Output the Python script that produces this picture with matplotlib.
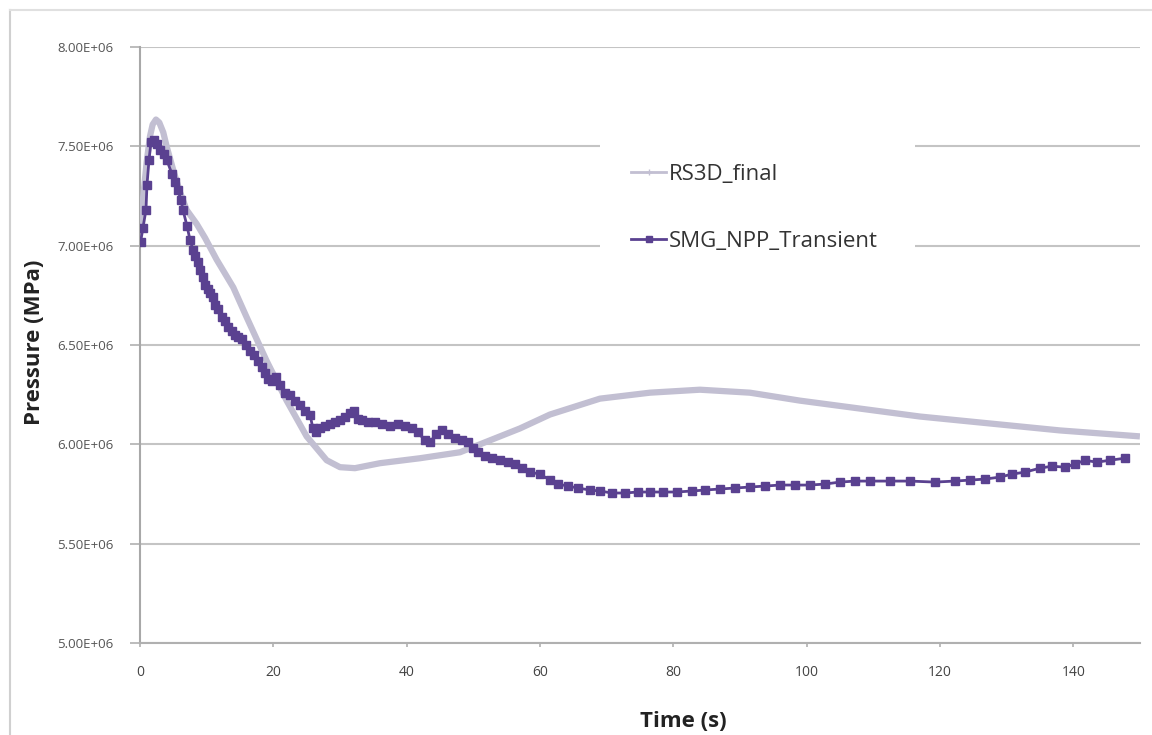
import matplotlib
matplotlib.use("Agg")
import matplotlib.pyplot as plt
from matplotlib.lines import Line2D
from matplotlib.patches import Rectangle
from matplotlib.ticker import FuncFormatter

plt.rcParams['font.family'] = ['Open Sans', 'DejaVu Sans']

# RS3D_final (time s, pressure E6 Pa)
rs3d_t = [0.0, 0.5, 1.0, 1.5, 1.9, 2.4, 2.9, 3.5, 4.0, 5.0, 6.0, 7.0, 8.5, 9.75,
          11.5, 14.0, 16.0, 19.0, 22.0, 25.0, 28.0, 30.0, 32.25, 36.0, 42.0, 48.0,
          52.5, 57.0, 61.5, 69.0, 76.5, 84.0, 91.5, 99.0, 108.0, 117.0, 129.0, 138.0,
          150.0]
rs3d_p = [7.08, 7.25, 7.42, 7.55, 7.61, 7.635, 7.62, 7.57, 7.50, 7.38, 7.27, 7.18,
          7.11, 7.04, 6.93, 6.79, 6.64, 6.42, 6.22, 6.04, 5.92, 5.885, 5.88, 5.905,
          5.93, 5.96, 6.02, 6.08, 6.15, 6.23, 6.26, 6.275, 6.26, 6.22, 6.18, 6.14,
          6.10, 6.07, 6.04]

# SMG_NPP_Transient
smg_t = [0.1, 0.45, 0.9, 1.05, 1.35, 1.65, 2.1, 2.55, 3.0, 3.6, 4.05, 4.8, 5.25, 5.7,
         6.15, 6.45, 7.05, 7.5, 7.95, 8.25, 8.7, 9.0, 9.45, 9.75, 10.2, 10.5, 10.95,
         11.25, 11.7, 12.3, 12.75, 13.2, 13.8, 14.25, 14.7, 15.3, 15.9, 16.5, 17.1,
         17.7, 18.3, 18.75, 19.2, 19.8, 20.4, 21.0, 21.75, 22.5, 23.25, 24.0, 24.75,
         25.5, 25.95, 26.4, 27.0, 27.75, 28.5, 29.25, 30.0, 30.75, 31.5, 32.1, 32.7,
         33.3, 34.2, 35.25, 36.3, 37.5, 38.7, 39.75, 40.8, 41.7, 42.75, 43.5, 44.4,
         45.3, 46.2, 47.25, 48.3, 49.2, 49.95, 50.7, 51.75, 52.8, 54.0, 55.2, 56.25,
         57.3, 58.5, 60.0, 61.5, 62.7, 64.2, 65.7, 67.5, 69.0, 70.8, 72.75, 74.7,
         76.5, 78.45, 80.5, 82.8, 84.75, 87.0, 89.25, 91.5, 93.75, 96.0, 98.25,
         100.5, 102.75, 105.0, 107.25, 109.5, 112.5, 115.5, 119.25, 122.25, 124.5,
         126.75, 129.0, 130.8, 132.75, 135.0, 136.8, 138.75, 140.25, 141.75, 143.55,
         145.5, 147.75]
smg_p = [7.02, 7.09, 7.18, 7.305, 7.43, 7.52, 7.53, 7.51, 7.48, 7.46, 7.43, 7.36, 7.32,
         7.28, 7.23, 7.18, 7.10, 7.03, 6.98, 6.95, 6.92, 6.88, 6.84, 6.80, 6.78, 6.76,
         6.74, 6.70, 6.68, 6.64, 6.62, 6.59, 6.57, 6.55, 6.54, 6.53, 6.50, 6.47, 6.45,
         6.42, 6.39, 6.36, 6.33, 6.32, 6.34, 6.30, 6.26, 6.25, 6.22, 6.20, 6.17, 6.15,
         6.08, 6.06, 6.08, 6.09, 6.10, 6.11, 6.12, 6.14, 6.16, 6.17, 6.13, 6.12, 6.11,
         6.11, 6.10, 6.09, 6.10, 6.09, 6.08, 6.06, 6.02, 6.01, 6.05, 6.07, 6.05, 6.03,
         6.02, 6.01, 5.98, 5.96, 5.94, 5.93, 5.92, 5.91, 5.90, 5.88, 5.86, 5.85, 5.82,
         5.80, 5.79, 5.78, 5.77, 5.765, 5.755, 5.755, 5.76, 5.76, 5.76, 5.76, 5.765,
         5.77, 5.775, 5.78, 5.785, 5.79, 5.795, 5.795, 5.795, 5.80, 5.81, 5.815, 5.815,
         5.815, 5.815, 5.81, 5.815, 5.82, 5.825, 5.835, 5.85, 5.86, 5.88, 5.89, 5.885,
         5.90, 5.92, 5.91, 5.92, 5.93]

xticks = [0, 20, 40, 60, 80, 100, 120, 140]
yticks = [5.0e6, 5.5e6, 6.0e6, 6.5e6, 7.0e6, 7.5e6, 8.0e6]

gray = '#c2bfd2'
purple = '#5a4190'

fig = plt.figure(figsize=(11.52, 7.35), dpi=100)
ax = fig.add_axes([0.1215, 0.1252, 0.868, 0.8108])

# outer chart border (left and top visible)
fig.add_artist(Line2D([0.009, 0.009], [0, 0.986], color='#d0d0d0', lw=1.5))
fig.add_artist(Line2D([0.009, 1.0], [0.986, 0.986], color='#e0e0e0', lw=1.5))

ax.plot(rs3d_t, [p * 1e6 for p in rs3d_p], color=gray, lw=4.5, zorder=3,
        solid_capstyle='butt')
ax.plot(smg_t, [p * 1e6 for p in smg_p], color=purple, lw=2, marker='s',
        markersize=5.5, zorder=4)

ax.set_xlim(0, 150)
ax.set_ylim(5.0e6, 8.0e6)
ax.set_xticks(xticks)
ax.set_yticks(yticks)
ax.yaxis.set_major_formatter(FuncFormatter(lambda v, pos: f"{v:.2E}"))
ax.grid(axis='y', color='#c4c4c4', lw=1.5, zorder=1)
ax.set_axisbelow(True)

for s in ['top', 'right']:
    ax.spines[s].set_visible(False)
ax.spines['left'].set_color('#a8a8a8')
ax.spines['bottom'].set_color('#b0b0b0')
ax.spines['left'].set_linewidth(1.5)
ax.spines['bottom'].set_linewidth(1.5)
ax.tick_params(axis='y', colors='#b0b0b0', labelcolor='#555555', labelsize=9.5,
               length=7, width=1.2, pad=12)
ax.tick_params(axis='x', colors='#b0b0b0', labelcolor='#444444', labelsize=10,
               length=3, width=1.2, pad=13)

ax.set_xlabel('Time (s)', fontsize=16, fontweight='bold', color='#222222')
ax.xaxis.label.set_va('center')
ax.xaxis.set_label_coords(0.543, -0.1326)
ax.set_ylabel('Pressure (MPa)', fontsize=16, fontweight='bold', color='#222222')
ax.yaxis.set_label_coords(-0.095, 0.505)

# white legend area covering gridlines
ax.add_patch(Rectangle((0.46, 0.634), 0.315, 0.227, transform=ax.transAxes,
                       facecolor='white', edgecolor='none', zorder=2))

handles = [Line2D([], [], color=gray, lw=2, marker='+', markersize=5),
           Line2D([], [], color=purple, lw=2, marker='s', markersize=5)]
ax.legend(handles, ['RS3D_final', 'SMG_NPP_Transient'], loc='center left',
          bbox_to_anchor=(0.471, 0.73), frameon=False, fontsize=16,
          handlelength=1.6, handletextpad=0.1, labelspacing=2.1,
          labelcolor='#333333')

fig.savefig('out.png', dpi=100)
